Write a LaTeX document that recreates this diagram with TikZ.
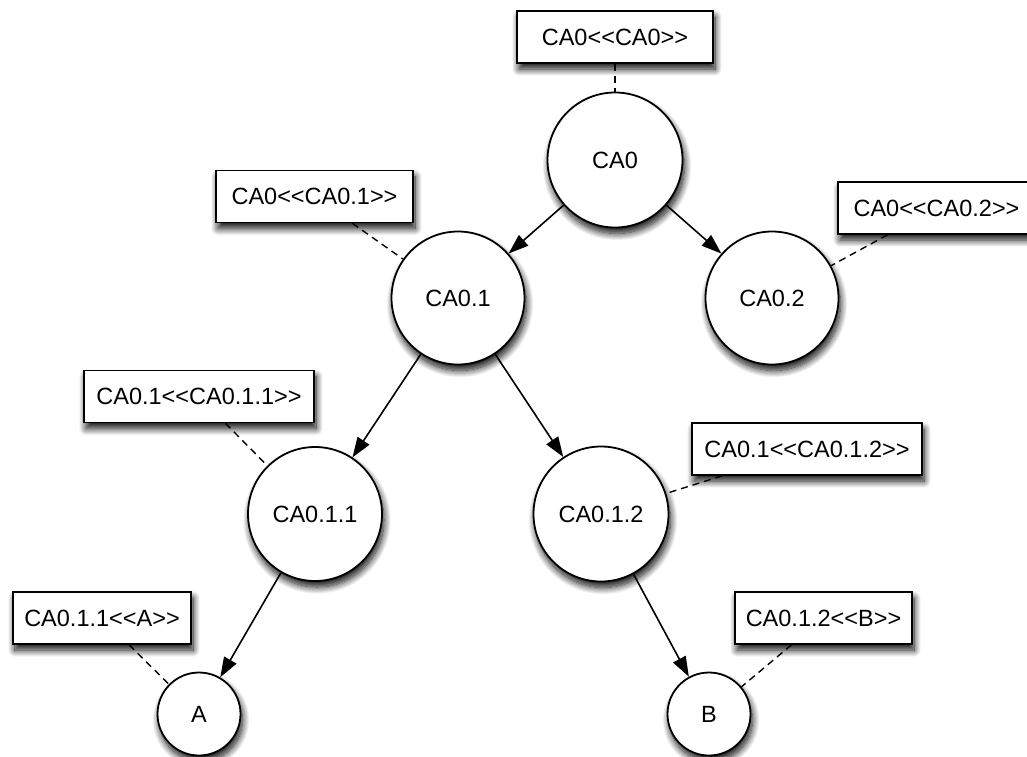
\documentclass[tikz,border=0pt]{standalone}
\usepackage{fontspec}
\setmainfont{Liberation Sans}[Ligatures=TeXOff]
\usetikzlibrary{arrows.meta,shadows.blur}

\begin{document}
\begin{tikzpicture}[x=1pt,y=-1pt,
  every node/.style={font=\fontsize{23.5}{27}\selectfont},
  softshadow/.style={blur shadow={shadow xshift=2pt,shadow yshift=-6pt,
      shadow blur radius=7pt,shadow blur steps=14,shadow opacity=95}},
  ca/.style={circle,draw=black,line width=1.8pt,fill=white,inner sep=0pt,softshadow},
  tag/.style={rectangle,draw=black,line width=1.6pt,fill=white,inner sep=0pt,
      minimum height=52pt,softshadow},
  link/.style={line width=1.6pt,-{Triangle[length=20pt,width=14pt]}},
  note/.style={line width=1.4pt,dash pattern=on 7pt off 5pt}]

\useasboundingbox (0,0) rectangle (1027,756);

% tree nodes
\node[ca,minimum size=135pt] (n0)   at (615,160) {CA0};
\node[ca,minimum size=133pt] (n1)   at (458,298) {CA0.1};
\node[ca,minimum size=133pt] (n2)   at (772,298) {CA0.2};
\node[ca,minimum size=134pt] (n11)  at (315,514) {CA0.1.1};
\node[ca,minimum size=135pt] (n12)  at (601,514) {CA0.1.2};
\node[ca,minimum size=83pt]  (na)   at (199,714) {A};
\node[ca,minimum size=83pt]  (nb)   at (709,714) {B};

% annotation boxes
\node[tag,minimum width=196pt] (t0)  at (615,37)    {CA0<<CA0>>};
\node[tag,minimum width=197pt] (t1)  at (314.5,196.5) {CA0<<CA0.1>>};
\node[tag,minimum width=197pt] (t2)  at (936.5,208) {CA0<<CA0.2>>};
\node[tag,minimum width=230pt] (t11) at (199,396.5) {CA0.1<<CA0.1.1>>};
\node[tag,minimum width=230pt] (t12) at (807,449)   {CA0.1<<CA0.1.2>>};
\node[tag,minimum width=178pt] (ta)  at (102,618)   {CA0.1.1<<A>>};
\node[tag,minimum width=177pt] (tb)  at (823.5,618) {CA0.1.2<<B>>};

% tree edges
\draw[link] (n0) -- (n1);
\draw[link] (n0) -- (n2);
\draw[link] (n1) -- (n11);
\draw[link] (n1) -- (n12);
\draw[link] (n11) -- (na);
\draw[link] (n12) -- (nb);

% annotation leaders
\draw[note] (t0) -- (n0);
\draw[note] (t1) -- (n1);
\draw[note] (t2) -- (n2);
\draw[note] (t11) -- (n11);
\draw[note] (t12) -- (n12);
\draw[note] (ta) -- (na);
\draw[note] (tb) -- (nb);
\end{tikzpicture}
\end{document}
